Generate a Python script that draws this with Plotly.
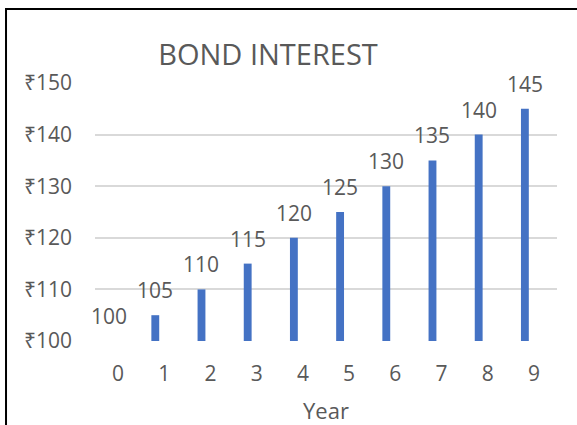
import plotly.graph_objects as go

years = [0, 1, 2, 3, 4, 5, 6, 7, 8, 9]
interest = [100, 105, 110, 115, 120, 125, 130, 135, 140, 145]
y_ticks = [100, 110, 120, 130, 140, 150]
y_tick_labels = ["₹100", "₹110", "₹120", "₹130", "₹140", "₹150"]

BAR_OFFSET = -0.28
BAR_WIDTH = 0.17
FONT = "Open Sans, Noto Sans, DejaVu Sans, sans-serif"
GREY = "#595959"

fig = go.Figure()
fig.add_trace(go.Bar(
    x=years, y=[v - 100 for v in interest], base=100,
    offset=BAR_OFFSET, width=BAR_WIDTH,
    marker=dict(color="#4472C4", line=dict(width=0)),
    hoverinfo="skip",
))

for x, v in zip(years, interest):
    fig.add_annotation(
        x=x + BAR_OFFSET + BAR_WIDTH / 2, y=v, xref="x", yref="y",
        text=str(v), showarrow=False, yshift=25, yanchor="middle",
        font=dict(family=FONT, size=21, color=GREY),
    )

fig.add_annotation(
    x=0.5, y=-0.267, xref="paper", yref="paper", text="Year",
    showarrow=False, yanchor="middle",
    font=dict(family=FONT, size=22, color=GREY),
)

fig.add_shape(
    type="rect", xref="paper", yref="paper",
    x0=-0.1926, x1=1.06, y0=-0.4, y1=1.287,
    line=dict(color="black", width=2), fillcolor="rgba(0,0,0,0)",
    layer="below",
)

fig.update_layout(
    width=577, height=425,
    margin=dict(l=95, r=20, t=83, b=84),
    paper_bgcolor="white", plot_bgcolor="white",
    showlegend=False,
    title=dict(text="BOND INTEREST", x=268 / 577, y=1 - 55 / 425,
               xanchor="center", yanchor="middle",
               font=dict(family=FONT, size=29, color=GREY)),
    xaxis=dict(range=[-0.5, 9.5], tickvals=years, ticktext=[str(y) for y in years],
               showgrid=False, zeroline=False, showline=False, ticks="",
               ticklabelstandoff=18,
               tickfont=dict(family=FONT, size=21, color=GREY)),
    yaxis=dict(range=[100, 150], tickvals=y_ticks, ticktext=y_tick_labels,
               showgrid=True, gridcolor="#D9D9D9", gridwidth=1.5,
               zeroline=False, showline=False, ticks="",
               ticklabelstandoff=22,
               tickfont=dict(family=FONT, size=21, color=GREY)),
)

fig.write_html("out.html")
